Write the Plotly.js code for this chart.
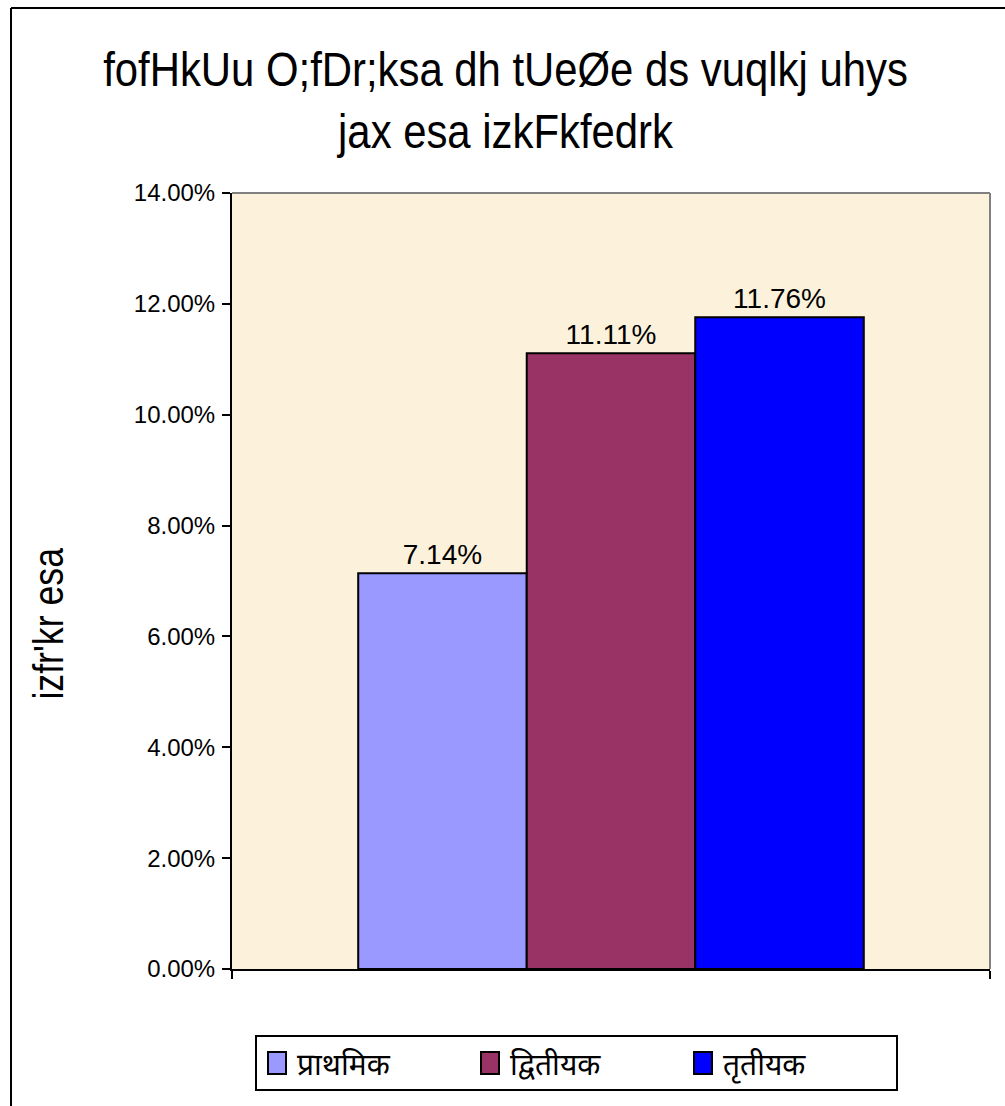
<!DOCTYPE html>
<html>
<head>
<meta charset="utf-8">
<script src="https://cdn.plot.ly/plotly-3.0.1.min.js"></script>
<style>html,body{margin:0;padding:0;background:#fff;}</style>
</head>
<body>
<div id="chart" style="width:1005px;height:1106px;"></div>
<script>
const categories = ["प्राथमिक", "द्वितीयक", "तृतीयक"];
const values = [0.0714, 0.1111, 0.1176];
const labels = ["7.14%", "11.11%", "11.76%"];
const colors = ["#9999FF", "#993366", "#0000FF"];
const yTicks = [0, 0.02, 0.04, 0.06, 0.08, 0.10, 0.12, 0.14];
const titleLines = ["fofHkUu O;fDr;ksa dh tUeØe ds vuqlkj uhys", "jax esa izkFkfedrk"];
const yTitle = "izfr'kr esa";

const L = 232, R = 990, T = 193, B = 969, W = 1005, H = 1106;
const px = x => (x - L) / (R - L);
const py = y => (B - y) / (B - T);

const arial = "'Liberation Sans', Arial, sans-serif";

const traces = categories.map((c, i) => ({
  type: 'bar',
  name: c,
  x: [0],
  y: [values[i]],
  text: [labels[i]],
  textposition: 'outside',
  cliponaxis: false,
  textfont: {family: arial, size: 28, color: '#000'},
  marker: {color: colors[i], line: {color: '#000', width: 2}},
  hoverinfo: 'skip'
}));

const layout = {
  width: W, height: H,
  margin: {l: L, r: W - R, t: T, b: H - B},
  paper_bgcolor: '#fff',
  plot_bgcolor: '#FCF2DC',
  barmode: 'group',
  bargap: 0.333,
  bargroupgap: 0,
  showlegend: true,
  legend: {
    orientation: 'h',
    x: px(255), xanchor: 'left',
    y: py(1063), yanchor: 'middle',
    bordercolor: '#000', borderwidth: 2,
    bgcolor: '#fff',
    font: {family: "'Noto Sans', 'Noto Sans Devanagari', sans-serif", size: 30, color: '#000'},
    entrywidth: 168,
    itemwidth: 30,
    tracegroupgap: 0
  },
  xaxis: {
    range: [-0.5, 0.5],
    tickvals: [-0.5, 0.5],
    ticktext: ['', ''],
    ticks: 'outside', ticklen: 8, tickwidth: 2, tickcolor: '#000',
    showline: true, linecolor: '#000', linewidth: 2,
    showgrid: false, zeroline: false, fixedrange: true
  },
  yaxis: {
    range: [0, 0.14],
    tickvals: yTicks,
    tickformat: '.2%',
    ticks: 'outside', ticklen: 8, tickwidth: 2, tickcolor: '#000',
    ticklabelstandoff: 2,
    showline: true, linecolor: '#000', linewidth: 2,
    showgrid: false, zeroline: false,
    tickfont: {family: arial, size: 24, color: '#000'},
    fixedrange: true
  },
  shapes: [
    {type: 'line', xref: 'paper', yref: 'paper', x0: 0, x1: 1, y0: 1, y1: 1, line: {color: '#808080', width: 2}},
    {type: 'line', xref: 'paper', yref: 'paper', x0: 1, x1: 1, y0: 0, y1: 1, line: {color: '#808080', width: 2}},
    {type: 'line', xref: 'paper', yref: 'paper', x0: px(11), x1: px(1010), y0: py(8), y1: py(8), line: {color: '#000', width: 2}},
    {type: 'line', xref: 'paper', yref: 'paper', x0: px(11), x1: px(11), y0: py(8), y1: py(1115), line: {color: '#000', width: 2}}
  ],
  annotations: [
    {text: titleLines.join('<br>'), xref: 'paper', yref: 'paper', x: px(505), y: py(160), xanchor: 'center', yanchor: 'bottom',
     showarrow: false, font: {family: arial, size: 48, color: '#000'}},
    {text: yTitle, xref: 'paper', yref: 'paper', x: px(48), y: py(624), xanchor: 'center', yanchor: 'middle',
     textangle: -90, showarrow: false, font: {family: arial, size: 42, color: '#000'}}
  ]
};

Plotly.newPlot('chart', traces, layout, {displayModeBar: false, staticPlot: true}).then(gd => {
  // condense the title glyphs horizontally (narrow legacy font look)
  const ann = gd.querySelectorAll('.annotation')[0];
  if (ann) {
    const txt = ann.querySelector('text.annotation-text');
    const lines = txt.querySelectorAll('tspan.line');
    if (txt && lines.length) {
      const w1 = lines[0].getComputedTextLength();
      const s = 805 / w1;
      const bb = txt.getBBox();
      const cx = bb.x + bb.width / 2;
      txt.setAttribute('transform', `translate(${cx},0) scale(${s},1) translate(${-cx},0)`);
    }
  }
  // condense y title glyphs along its reading direction
  const ann2 = gd.querySelectorAll('.annotation')[1];
  if (ann2) {
    const t2 = ann2.querySelector('text.annotation-text');
    const bb = t2.getBBox();
    const cx = bb.x + bb.width / 2;
    t2.setAttribute('transform', `translate(${cx},0) scale(0.85,1) translate(${-cx},0)`);
  }
  // larger legend swatches
  gd.querySelectorAll('.legendpoints path').forEach(p => p.setAttribute('d', 'M9,11H-9V-11H9Z'));
});
</script>
</body>
</html>
